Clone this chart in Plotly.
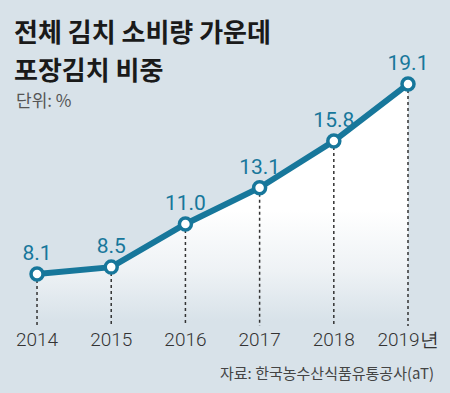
import plotly.graph_objects as go

years = [2014, 2015, 2016, 2017, 2018, 2019]
values = [8.1, 8.5, 11.0, 13.1, 15.8, 19.1]
tick_labels = ["2014", "2015", "2016", "2017", "2018", "2019년"]
value_labels = ["8.1", "8.5", "11.0", "13.1", "15.8", "19.1"]

BG = "#d8e2e9"
TEAL = "#17779b"
YMIN, YMAX = 5.09, 23.97
NUM_FONT = "Roboto, sans-serif"
KR_FONT = "Noto Sans CJK KR, sans-serif"

fig = go.Figure()

# gradient area under line
fig.add_trace(go.Scatter(
    x=years, y=values, mode="lines", line=dict(width=0),
    fill="tozeroy",
    fillgradient=dict(type="vertical",
                      colorscale=[[0, BG], [0.45, "#eef2f5"], [1, "#ffffff"]],
                      start=5.4, stop=11.8),
    hoverinfo="skip", showlegend=False))

# dotted drop lines
dx, dy = [], []
for xv, yv in zip(years, values):
    dx += [xv, xv, None]
    dy += [yv, YMIN, None]
fig.add_trace(go.Scatter(x=dx, y=dy, mode="lines",
                         line=dict(color="#333333", width=1.5, dash="dot"),
                         hoverinfo="skip", showlegend=False))

# main line
fig.add_trace(go.Scatter(
    x=years, y=values, mode="lines+markers+text",
    line=dict(color=TEAL, width=6),
    marker=dict(size=12, color="white", line=dict(color=TEAL, width=3.5)),
    text=value_labels, textposition="top center",
    textfont=dict(family=NUM_FONT, size=21, color=TEAL, weight=400),
    cliponaxis=False, showlegend=False, hoverinfo="skip"))

fig.update_layout(
    width=450, height=393,
    paper_bgcolor=BG, plot_bgcolor=BG,
    margin=dict(l=0, r=0, t=0, b=67),
    xaxis=dict(range=[2013.501, 2019.566], tickvals=years, ticktext=tick_labels,
               showgrid=False, zeroline=False, showline=False, ticks="",
               tickfont=dict(family=NUM_FONT, size=19, color="#333333", weight=300)),
    yaxis=dict(range=[YMIN, YMAX], visible=False, showgrid=False),
    font=dict(family=KR_FONT),
    annotations=[
        dict(text="<b>전체 김치 소비량 가운데</b>", xref="paper", yref="paper",
             x=12 / 450, y=1 - 30 / 326, xanchor="left", yanchor="middle",
             showarrow=False, font=dict(family=KR_FONT, size=26, color="#1a1a1a")),
        dict(text="<b>포장김치 비중</b>", xref="paper", yref="paper",
             x=12 / 450, y=1 - 68 / 326, xanchor="left", yanchor="middle",
             showarrow=False, font=dict(family=KR_FONT, size=26, color="#1a1a1a")),
        dict(text="단위: %", xref="paper", yref="paper",
             x=14 / 450, y=1 - 99 / 326, xanchor="left", yanchor="middle",
             showarrow=False, font=dict(family=KR_FONT, size=17, color="#555555")),
        dict(text="자료: 한국농수산식품유통공사(aT)", xref="paper", yref="paper",
             x=436 / 450, y=1 - 372 / 326, xanchor="right", yanchor="middle",
             showarrow=False, font=dict(family=KR_FONT, size=15, color="#444444")),
    ],
)

fig.write_html("out.html", config={"displayModeBar": False},
               post_script="document.body.style.margin='0';")
